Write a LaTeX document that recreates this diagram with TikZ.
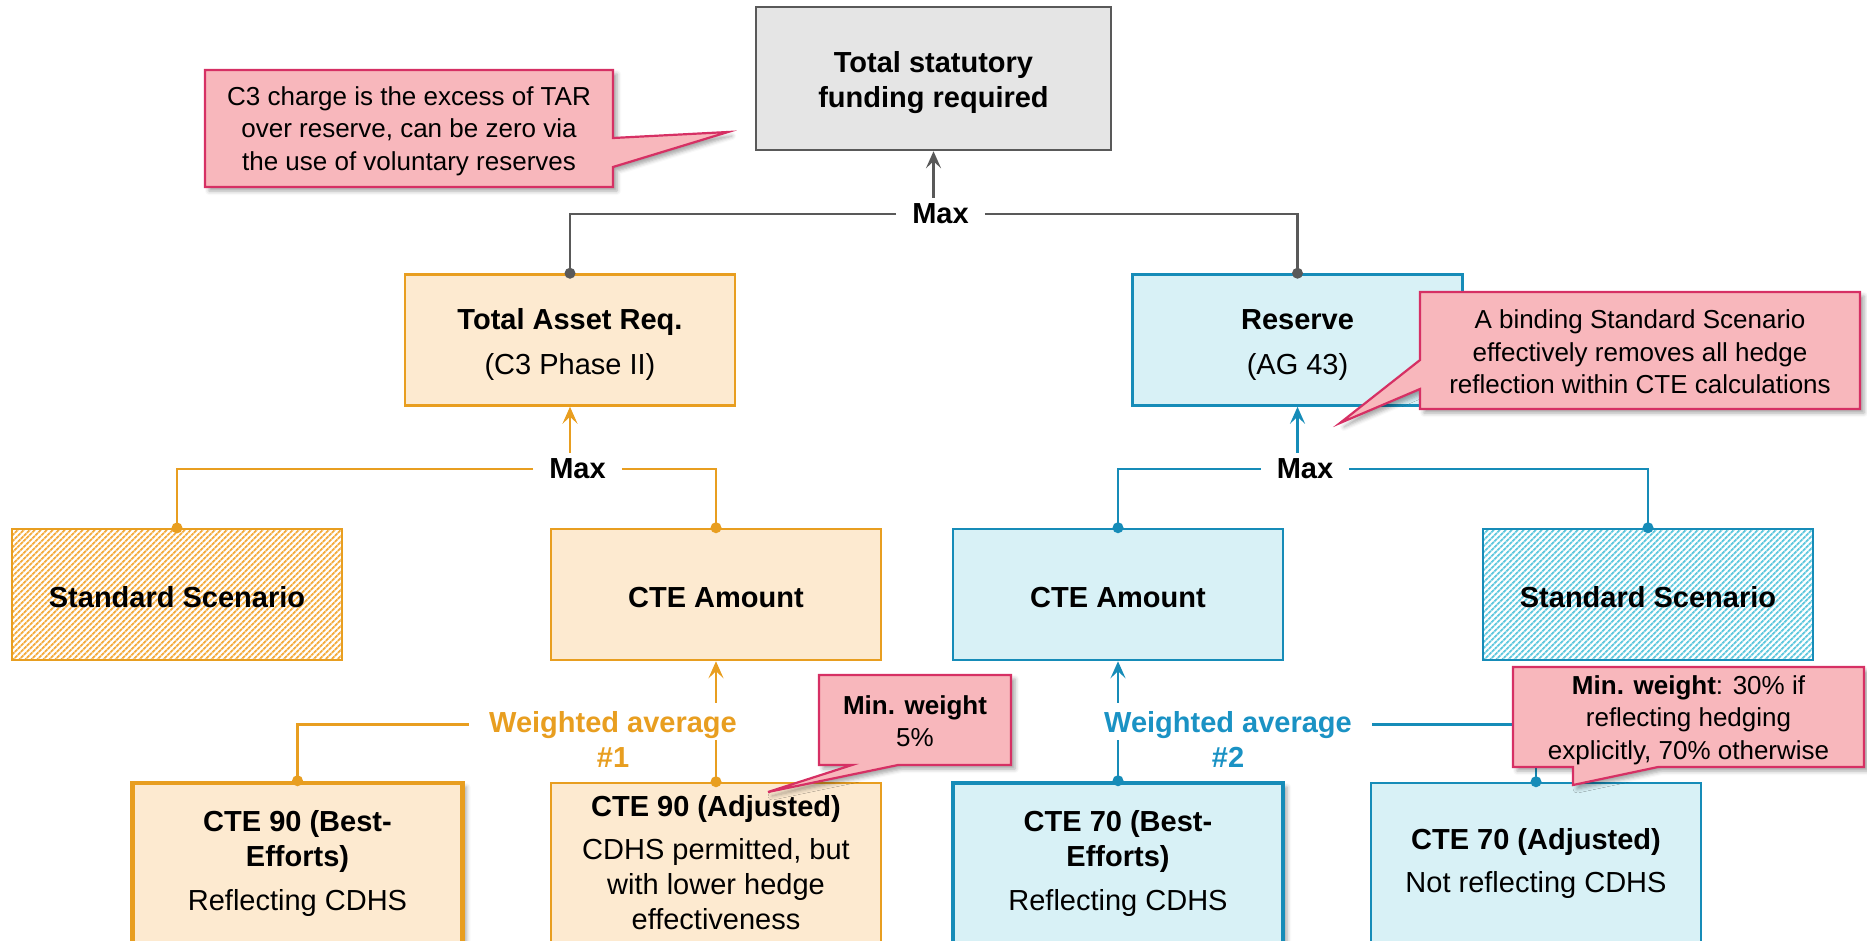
\documentclass[tikz,border=0pt]{standalone}
\usepackage{fontspec}
\setmainfont{Liberation Sans}
\usetikzlibrary{arrows.meta,patterns.meta,shadows.blur}
\definecolor{gborder}{RGB}{89,89,89}
\definecolor{gfill}{RGB}{229,229,229}
\definecolor{oborder}{RGB}{232,158,32}
\definecolor{ofill}{RGB}{253,234,208}
\definecolor{ohatch}{RGB}{244,172,62}
\definecolor{bborder}{RGB}{22,140,184}
\definecolor{bfill}{RGB}{216,241,246}
\definecolor{bhatch}{RGB}{96,200,222}
\definecolor{btext}{RGB}{26,146,196}
\definecolor{cfill}{RGB}{248,183,188}
\definecolor{cborder}{RGB}{214,48,100}
\newcommand{\bxfont}{\fontsize{29}{35}\selectfont}
\newcommand{\cofont}{\fontsize{26}{32.5}\selectfont}
\newcommand{\tallstrut}{\rule{0pt}{29pt}}
\newcommand{\midstrut}{\rule{0pt}{26pt}}
\begin{document}
\begin{tikzpicture}[x=1pt,y=-1pt,
  box/.style={draw, line width=2.5pt, minimum width=330pt, minimum height=131pt, align=center, inner sep=0pt, font=\bxfont},
  obox/.style={box, draw=oborder, fill=ofill},
  bbox/.style={box, draw=bborder, fill=bfill},
  ohbox/.style={box, draw=oborder, preaction={fill=white}, pattern={Lines[angle=45,distance=4pt,line width=2.1pt]}, pattern color=ohatch},
  bhbox/.style={box, draw=bborder, preaction={fill=white}, pattern={Lines[angle=45,distance=4pt,line width=2.1pt]}, pattern color=bhatch},
  lowbox/.style={minimum height=160pt},
  thickbox/.style={line width=4.5pt, blur shadow={shadow xshift=4pt, shadow yshift=-4pt, shadow blur radius=4pt, shadow opacity=35}},
  maxlbl/.style={font=\bxfont\bfseries, inner xsep=16pt, inner ysep=6pt},
  wlbl/.style={font=\bxfont\bfseries, inner xsep=20pt, inner ysep=2pt, anchor=base},
  conn/.style={line width=2.8pt},
  arr/.style={conn, -{Stealth[length=17pt,width=15pt,inset=7pt]}},
  callout/.style={fill=cfill, draw=cborder, line width=2.2pt, line join=miter, blur shadow={shadow xshift=4pt, shadow yshift=-4pt, shadow blur radius=4pt, shadow opacity=35}},
  ctext/.style={font=\cofont, align=center, inner sep=0pt}
]
\path[use as bounding box] (0,0) rectangle (1867,940);
\clip (0,0) rectangle (1867,940);

% ---------- boxes ----------
\node[box, draw=gborder, fill=gfill, minimum width=355pt, minimum height=143pt] (top) at (933.5,78.5) {\tallstrut\textbf{Total statutory}\\\textbf{funding required}};

\node[obox] (tar) at (570,340) {\tallstrut\textbf{Total Asset Req.}\\[10pt](C3 Phase II)};
\node[bbox] (res) at (1297.5,340) {\tallstrut\textbf{Reserve}\\[10pt](AG 43)};

\node[ohbox] (ss1) at (177,594.5) {\midstrut\textbf{Standard Scenario}};
\node[obox] (amt1) at (716,594.5) {\midstrut\textbf{CTE Amount}};
\node[bbox] (amt2) at (1118,594.5) {\midstrut\textbf{CTE Amount}};
\node[bhbox] (ss2) at (1648,594.5) {\midstrut\textbf{Standard Scenario}};

\node[obox, lowbox, thickbox] (be1) at (297.5,863) {\textbf{CTE 90 (Best-}\\\textbf{Efforts)}\\[9pt]Reflecting CDHS};
\node[obox, lowbox] (adj1) at (716,863) {\textbf{CTE 90 (Adjusted)}\\[8pt]CDHS permitted, but\\with lower hedge\\effectiveness};
\node[bbox, lowbox, thickbox] (be2) at (1118,863) {\textbf{CTE 70 (Best-}\\\textbf{Efforts)}\\[9pt]Reflecting CDHS};
\node[bbox, lowbox] (adj2) at (1536,863) {\textbf{CTE 70 (Adjusted)}\\[8pt]Not reflecting CDHS};

% ---------- labels ----------
\node[maxlbl] (max0) at (940.5,214) {Max};
\node[maxlbl] (max1) at (577.5,469) {Max};
\node[maxlbl] (max2) at (1305,469) {Max};

\node[wlbl, text=oborder] (wa1) at (613,732) {Weighted average};
\node[wlbl, text=oborder] (wn1) at (613,767) {\#1};
\node[wlbl, text=btext] (wa2) at (1228,732) {Weighted average};
\node[wlbl, text=btext] (wn2) at (1228,767) {\#2};

% ---------- connectors ----------
\draw[conn, gborder] (max0.west) -| (tar.north);
\draw[conn, gborder] (max0.east) -| (res.north);
\draw[arr, gborder] (top.south |- max0.north) -- (top.south);
\fill[gborder] (tar.north) circle (5.5pt) (res.north) circle (5.5pt);

\draw[conn, oborder] (max1.west) -| (ss1.north);
\draw[conn, oborder] (max1.east) -| (amt1.north);
\draw[arr, oborder] (tar.south |- max1.north) -- (tar.south);
\fill[oborder] (ss1.north) circle (5.5pt) (amt1.north) circle (5.5pt);

\draw[conn, bborder] (max2.west) -| (amt2.north);
\draw[conn, bborder] (max2.east) -| (ss2.north);
\draw[arr, bborder] (res.south |- max2.north) -- (res.south);
\fill[bborder] (amt2.north) circle (5.5pt) (ss2.north) circle (5.5pt);

\draw[conn, oborder] (wa1.west) -| (be1.north);
\draw[conn, oborder] (adj1.north) -- (adj1.north |- wa1.south);
\draw[arr, oborder] (amt1.south |- wa1.north) ++(0,-6) -- (amt1.south);
\fill[oborder] (be1.north) circle (5.5pt) (adj1.north) circle (5.5pt);

\draw[conn, bborder] (wa2.east) -| (adj2.north);
\draw[conn, bborder] (be2.north) -- (be2.north |- wa2.south);
\draw[arr, bborder] (amt2.south |- wa2.north) ++(0,-6) -- (amt2.south);
\fill[bborder] (be2.north) circle (5.5pt) (adj2.north) circle (5.5pt);

% ---------- callouts ----------
\path[callout] (205,70) -- (613,70) -- (613,138) -- (728,132) -- (613,167) -- (613,187) -- (205,187) -- cycle;
\node[ctext] (c3) at (409,131) {C3 charge is the excess of TAR\\over reserve, can be zero via\\the use of voluntary reserves};

\path[callout] (1420,292) -- (1860,292) -- (1860,409) -- (1420,409) -- (1420,389) -- (1340,423) -- (1420,360) -- cycle;
\node[ctext] (cres) at (1640,352) {A binding Standard Scenario\\effectively removes all hedge\\reflection within CTE calculations};

\path[callout] (819,675) -- (1011,675) -- (1011,765) -- (898,765) -- (768,792) -- (852,765) -- (819,765) -- cycle;
\node[ctext] (cw1) at (915,721) {\textbf{Min. weight}\\5\%};

\path[callout] (1513,667) -- (1864,667) -- (1864,767) -- (1658,767) -- (1573,785) -- (1573,767) -- (1513,767) -- cycle;
\node[ctext] (cw2) at (1688.5,720) {\textbf{Min. weight}: 30\% if\\reflecting hedging\\explicitly, 70\% otherwise};

\end{tikzpicture}
\end{document}
